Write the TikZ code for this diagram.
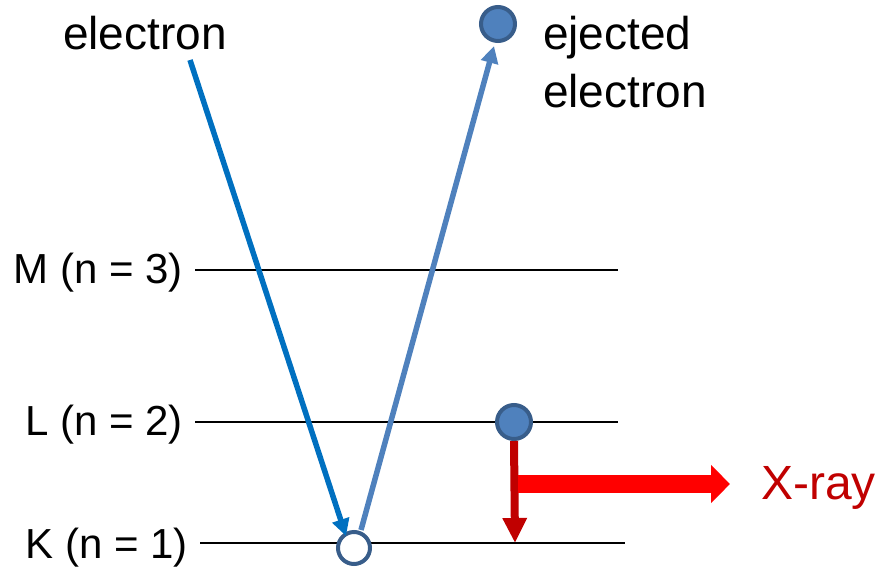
\documentclass[tikz,border=0pt]{standalone}
\usepackage{fontspec}
\setmainfont{Liberation Sans}
\usetikzlibrary{arrows.meta}
\definecolor{inblue}{HTML}{0070C0}
\definecolor{outblue}{HTML}{4F81BD}
\definecolor{rimblue}{HTML}{385D8A}
\definecolor{darkred}{HTML}{C00000}
\begin{document}
\begin{tikzpicture}[x=1pt,y=-1pt,
  level/.style={line width=2.6pt,black},
  lbl/.style={font=\fontsize{42}{58}\selectfont,inner sep=0pt},
  biglbl/.style={font=\fontsize{46}{58}\selectfont,inner sep=0pt},
  elec/.style={circle,draw=rimblue,fill=outblue,line width=4pt,minimum size=34pt,inner sep=0pt},
  hole/.style={circle,draw=rimblue,fill=white,line width=4pt,minimum size=32pt,inner sep=0pt}]
\useasboundingbox (0,0) rectangle (880,570);
% levels
\coordinate (m1) at (195,270); \coordinate (m2) at (618,270);
\coordinate (l1) at (195,422); \coordinate (l2) at (618,422);
\coordinate (k1) at (200,543); \coordinate (k2) at (625,543);
\draw[level] (m1) -- (m2);
\draw[level] (l1) -- (l2);
\draw[level] (k1) -- (k2);
\node[lbl,anchor=base east] (mlab) at (183,283) {M (n = 3)};
\node[lbl,anchor=base east] (llab) at (183,435) {L (n = 2)};
\node[lbl,anchor=base east] (klab) at (188,558) {K (n = 1)};
% labels
\node[biglbl,anchor=base west] (etxt) at (63,49) {electron};
\node[biglbl,anchor=base west] (ejtxt) at (543,49) {ejected};
\node[biglbl,anchor=base west] (ejtxt2) at (543,107) {electron};
\node[biglbl,anchor=base west,text=darkred,font=\fontsize{48}{58}\selectfont] (xtxt) at (761,499) {X-ray};
% particles
\node[hole] (hole) at (354,548) {};
\node[elec] (ej) at (498,24) {};
\node[elec] (le) at (514,422) {};
\coordinate (inStart) at (190,60);
% arrows
\draw[inblue,line width=5.5pt,-{Triangle[length=17pt,width=17pt]}] (inStart) -- (346,536);
\coordinate (outStart) at (361,530);
\draw[outblue,line width=5.5pt,-{Triangle[length=17pt,width=17pt]}] (outStart) -- (494,46);
\coordinate (kdrop) at (515,543);
\draw[darkred,line width=8pt,-{Triangle[length=25pt,width=23pt]}] (le.south) -- (kdrop);
\coordinate (xa) at (518,484);
\coordinate (xb) at (730,484);
\draw[red,line width=18pt,-{Triangle[length=19pt,width=37pt]}] (xa) -- (xb);
\end{tikzpicture}
\end{document}
